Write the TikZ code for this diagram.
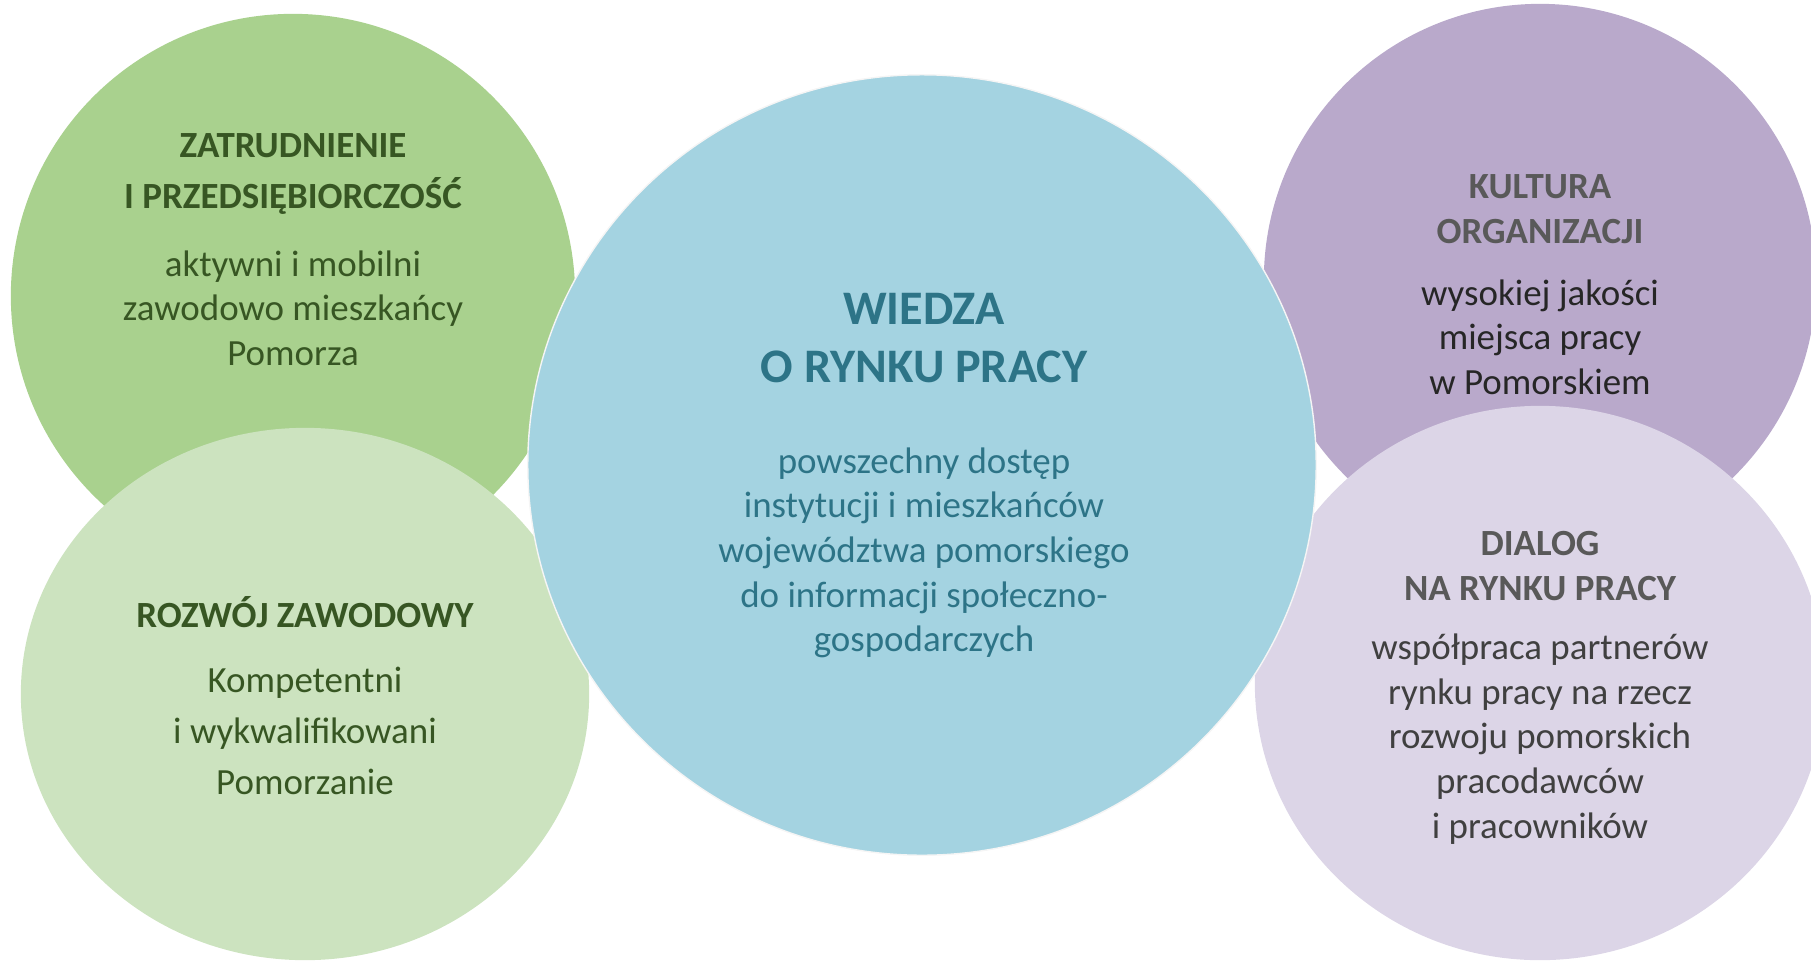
\documentclass[tikz,border=0pt]{standalone}
\usepackage{fontspec}
\setmainfont{Carlito}
\usepackage{xcolor}
\usepackage{tikz}
\usetikzlibrary{shapes.geometric}

\definecolor{zielony}{HTML}{A9D18E}
\definecolor{jzielony}{HTML}{CCE3BF}
\definecolor{tzielony}{HTML}{375623}
\definecolor{niebieski}{HTML}{A4D3E1}
\definecolor{tniebieski}{HTML}{2D7487}
\definecolor{fiolet}{HTML}{B9A9CB}
\definecolor{jfiolet}{HTML}{DCD5E7}
\definecolor{szary}{HTML}{595959}
\definecolor{ciemny}{HTML}{262626}
\definecolor{grafit}{HTML}{404040}

\tikzset{
    krag/.style = {ellipse, inner sep = 0pt, draw = none},
    tytul/.style = {align = center, font = \bfseries\fontsize{10.5}{12.8}\selectfont},
    opis/.style = {align = center, font = \fontsize{10.5}{12.7}\selectfont}
}

\begin{document}
\begin{tikzpicture}[x = 0.01cm, y = -0.01cm]
        \useasboundingbox (0, 0) rectangle (1811, 960);
        \clip (0, 0) rectangle (1811, 960);

        \node[krag, fill = zielony, minimum width = 5.64cm, minimum height = 5.64cm]
            (zatr) at (293, 296) {};
        \node[krag, fill = jzielony, minimum width = 5.68cm, minimum height = 5.32cm]
            (rozw) at (305, 694) {};
        \node[krag, fill = fiolet, minimum width = 5.52cm, minimum height = 5.52cm]
            (kult) at (1540, 280) {};
        \node[krag, fill = jfiolet, minimum width = 5.70cm, minimum height = 5.54cm]
            (dial) at (1540, 683) {};
        \node[krag, fill = niebieski, draw = white!92!gray, line width = 0.4pt,
            minimum width = 7.88cm, minimum height = 7.80cm] (wied) at (922, 465) {};

        \node[tytul, text = tzielony, font = \bfseries\fontsize{10.5}{14.5}\selectfont]
            (zatr-t) at (293, 174) {ZATRUDNIENIE\\I PRZEDSIĘBIORCZOŚĆ};
        \node[opis, text = tzielony] (zatr-o) at (293, 308)
            {aktywni i mobilni\\zawodowo mieszkańcy\\Pomorza};

        \node[tytul, text = tzielony] (rozw-t) at (305, 612) {ROZWÓJ ZAWODOWY};
        \node[opis, text = tzielony, font = \fontsize{10.5}{14.6}\selectfont]
            (rozw-o) at (305, 731) {Kompetentni\\i wykwalifikowani\\Pomorzanie};

        \node[tytul, text = tniebieski, font = \bfseries\fontsize{13.7}{16.4}\selectfont]
            (wied-t) at (924, 338) {WIEDZA\\O RYNKU PRACY};
        \node[opis, text = tniebieski] (wied-o) at (924, 553)
            {powszechny dostęp\\instytucji i mieszkańców\\województwa pomorskiego\\do informacji społeczno-\\gospodarczych};

        \node[tytul, text = szary] (kult-t) at (1540, 209) {KULTURA\\ORGANIZACJI};
        \node[opis, text = ciemny] (kult-o) at (1540, 337)
            {wysokiej jakości\\miejsca pracy\\w Pomorskiem};

        \node[tytul, text = szary] (dial-t) at (1540, 566) {DIALOG\\NA RYNKU PRACY};
        \node[opis, text = grafit] (dial-o) at (1540, 739)
            {współpraca partnerów\\rynku pracy na rzecz\\rozwoju pomorskich\\pracodawców\\i pracowników};
\end{tikzpicture}
\end{document}
